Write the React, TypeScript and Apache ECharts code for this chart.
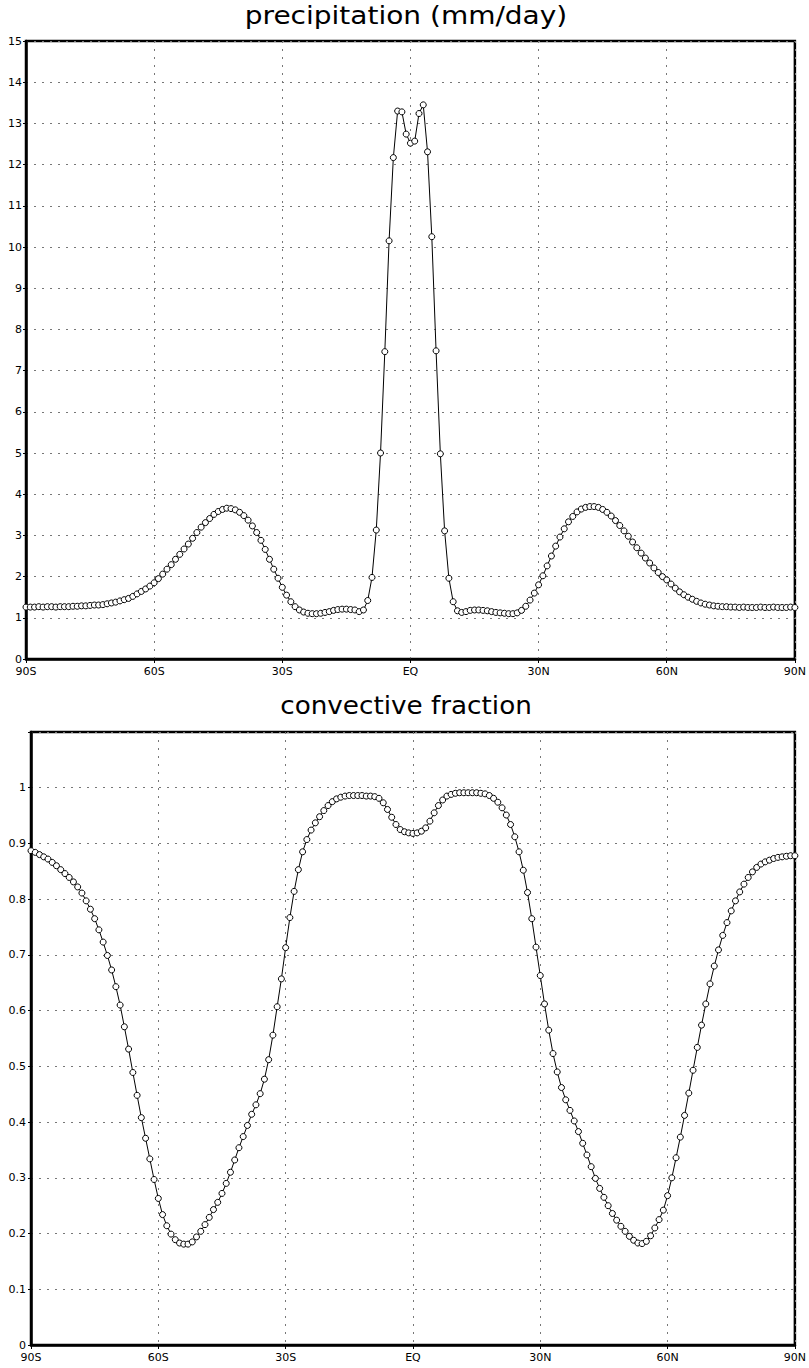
import React, { useEffect, useRef } from "react";
import * as echarts from "echarts";

const LATS = [
  -90, -89, -88, -87, -86, -85, -84, -83, -82, -81,
  -80, -79, -78, -77, -76, -75, -74, -73, -72, -71,
  -70, -69, -68, -67, -66, -65, -64, -63, -62, -61,
  -60, -59, -58, -57, -56, -55, -54, -53, -52, -51,
  -50, -49, -48, -47, -46, -45, -44, -43, -42, -41,
  -40, -39, -38, -37, -36, -35, -34, -33, -32, -31,
  -30, -29, -28, -27, -26, -25, -24, -23, -22, -21,
  -20, -19, -18, -17, -16, -15, -14, -13, -12, -11,
  -10, -9, -8, -7, -6, -5, -4, -3, -2, -1,
  0,
  1, 2, 3, 4, 5, 6, 7, 8, 9, 10,
  11, 12, 13, 14, 15, 16, 17, 18, 19, 20,
  21, 22, 23, 24, 25, 26, 27, 28, 29, 30,
  31, 32, 33, 34, 35, 36, 37, 38, 39, 40,
  41, 42, 43, 44, 45, 46, 47, 48, 49, 50,
  51, 52, 53, 54, 55, 56, 57, 58, 59, 60,
  61, 62, 63, 64, 65, 66, 67, 68, 69, 70,
  71, 72, 73, 74, 75, 76, 77, 78, 79, 80,
  81, 82, 83, 84, 85, 86, 87, 88, 89, 90,
];

const PRECIP = [
  1.26, 1.26, 1.26, 1.27, 1.26, 1.27, 1.27, 1.26, 1.27, 1.27,
  1.27, 1.28, 1.28, 1.29, 1.29, 1.30, 1.31, 1.31, 1.32, 1.34,
  1.36, 1.38, 1.41, 1.44, 1.47, 1.52, 1.58, 1.64, 1.70, 1.77,
  1.85, 1.95, 2.06, 2.18, 2.29, 2.42, 2.54, 2.67, 2.79, 2.93,
  3.07, 3.20, 3.31, 3.41, 3.51, 3.58, 3.63, 3.66, 3.65, 3.62,
  3.56, 3.48, 3.37, 3.23, 3.07, 2.88, 2.66, 2.42, 2.18, 1.96,
  1.74, 1.55, 1.39, 1.27, 1.19, 1.14, 1.11, 1.10, 1.10, 1.11,
  1.13, 1.15, 1.18, 1.20, 1.21, 1.21, 1.20, 1.19, 1.15, 1.19,
  1.42, 1.98, 3.13, 5.00, 7.46, 10.15, 12.17, 13.30, 13.28, 12.74,
  12.52,
  12.57, 13.24, 13.45, 12.31, 10.25, 7.48, 4.98, 3.11, 1.96, 1.39,
  1.17, 1.13, 1.15, 1.18, 1.19, 1.19, 1.18, 1.17, 1.15, 1.13,
  1.12, 1.11, 1.10, 1.10, 1.12, 1.18, 1.28, 1.43, 1.60, 1.80,
  2.02, 2.26, 2.50, 2.74, 2.96, 3.16, 3.33, 3.46, 3.57, 3.64,
  3.68, 3.70, 3.70, 3.68, 3.63, 3.56, 3.47, 3.36, 3.24, 3.11,
  2.98, 2.84, 2.70, 2.57, 2.45, 2.33, 2.21, 2.10, 2.00, 1.92,
  1.82, 1.72, 1.63, 1.56, 1.50, 1.45, 1.40, 1.36, 1.33, 1.31,
  1.29, 1.28, 1.27, 1.27, 1.26, 1.26, 1.25, 1.26, 1.25, 1.25,
  1.25, 1.26, 1.25, 1.25, 1.26, 1.25, 1.25, 1.25, 1.26, 1.25,
];

const CONV_FRAC = [
  0.887, 0.884, 0.880, 0.876, 0.872, 0.866, 0.860, 0.853, 0.846, 0.839,
  0.831, 0.822, 0.811, 0.797, 0.782, 0.765, 0.745, 0.723, 0.699, 0.673,
  0.643, 0.610, 0.571, 0.531, 0.489, 0.448, 0.408, 0.371, 0.334, 0.297,
  0.263, 0.234, 0.214, 0.199, 0.189, 0.183, 0.181, 0.181, 0.185, 0.194,
  0.204, 0.216, 0.229, 0.243, 0.256, 0.272, 0.290, 0.310, 0.332, 0.354,
  0.374, 0.394, 0.414, 0.431, 0.451, 0.477, 0.512, 0.556, 0.607, 0.657,
  0.713, 0.767, 0.814, 0.853, 0.885, 0.907, 0.924, 0.937, 0.948, 0.959,
  0.968, 0.975, 0.980, 0.983, 0.985, 0.986, 0.986, 0.986, 0.986, 0.985,
  0.985, 0.984, 0.981, 0.973, 0.961, 0.947, 0.934, 0.925, 0.921, 0.919,
  0.918,
  0.919, 0.922, 0.928, 0.940, 0.955, 0.968, 0.978, 0.985, 0.988, 0.990,
  0.991, 0.991, 0.991, 0.991, 0.991, 0.990, 0.989, 0.986, 0.981, 0.974,
  0.964, 0.951, 0.934, 0.912, 0.885, 0.852, 0.812, 0.765, 0.714, 0.663,
  0.612, 0.565, 0.523, 0.490, 0.462, 0.440, 0.421, 0.402, 0.383, 0.362,
  0.341, 0.320, 0.299, 0.281, 0.265, 0.250, 0.236, 0.224, 0.213, 0.204,
  0.195, 0.188, 0.183, 0.182, 0.186, 0.196, 0.210, 0.225, 0.242, 0.268,
  0.300, 0.336, 0.373, 0.412, 0.452, 0.493, 0.534, 0.574, 0.612, 0.648,
  0.680, 0.709, 0.735, 0.758, 0.779, 0.797, 0.813, 0.827, 0.839, 0.849,
  0.857, 0.863, 0.867, 0.870, 0.873, 0.875, 0.876, 0.877, 0.878, 0.878,
];

const X_TICKS = [-90, -60, -30, 0, 30, 60, 90];
const X_TICK_LABELS = ["90S", "60S", "30S", "EQ", "30N", "60N", "90N"];

const TITLES = ["precipitation (mm/day)", "convective fraction"];

const FONT = "DejaVu Sans";

function xLabel(v: number): string {
  const i = X_TICKS.indexOf(Math.round(v));
  return i >= 0 ? X_TICK_LABELS[i] : "";
}

const gridLine = {
  show: true,
  lineStyle: { color: "#777", width: 1, type: [2, 6] as number[] },
};

function makeXAxis(gridIndex: number) {
  return {
    type: "value",
    gridIndex,
    min: -90,
    max: 90,
    interval: 30,
    axisLine: { show: true, onZero: false, lineStyle: { color: "#000", width: 2.5 } },
    axisTick: { show: true, length: 4, lineStyle: { color: "#000", width: 1 } },
    axisLabel: {
      show: true,
      formatter: xLabel,
      color: "#000",
      fontFamily: FONT,
      fontSize: 11,
      margin: 7,
    },
    splitLine: gridLine,
  };
}

export default function App() {
  const ref = useRef<HTMLDivElement | null>(null);

  useEffect(() => {
    document.body.style.margin = "0";
    if (!ref.current) return;
    const chart = echarts.init(ref.current, undefined, { renderer: "svg" });

    const precipData = LATS.map((lat, i) => [lat, PRECIP[i]]);
    const convData = LATS.map((lat, i) => [lat, CONV_FRAC[i]]);

    const seriesStyle = {
      type: "line",
      symbol: "circle",
      symbolSize: 6,
      showAllSymbol: true,
      lineStyle: { color: "#000", width: 1 },
      itemStyle: { color: "#fff", borderColor: "#000", borderWidth: 1 },
      silent: true,
    };

    chart.setOption({
      animation: false,
      backgroundColor: "#fff",
      grid: [
        {
          left: 26,
          top: 41,
          width: 772,
          height: 618,
          show: true,
          borderColor: "#000",
          borderWidth: 2.5,
          backgroundColor: "transparent",
        },
        {
          left: 31,
          top: 732,
          width: 767,
          height: 613,
          show: true,
          borderColor: "#000",
          borderWidth: 2.5,
          backgroundColor: "transparent",
        },
      ],
      xAxis: [makeXAxis(0), makeXAxis(1)],
      yAxis: [
        {
          type: "value",
          gridIndex: 0,
          min: 0,
          max: 15,
          interval: 1,
          axisLine: { show: true, onZero: false, lineStyle: { color: "#000", width: 2.5 } },
          axisTick: { show: true, length: 3, lineStyle: { color: "#000", width: 1 } },
          axisLabel: { color: "#000", fontFamily: FONT, fontSize: 11, margin: 4 },
          splitLine: gridLine,
        },
        {
          type: "value",
          gridIndex: 1,
          min: 0,
          max: 1.1,
          interval: 0.1,
          axisLine: { show: true, onZero: false, lineStyle: { color: "#000", width: 2.5 } },
          axisTick: { show: true, length: 3, lineStyle: { color: "#000", width: 1 } },
          axisLabel: {
            color: "#000",
            fontFamily: FONT,
            fontSize: 11,
            margin: 5,
            formatter: (v: number) => (v > 1.05 ? "" : String(+v.toFixed(1))),
          },
          splitLine: gridLine,
        },
      ],
      graphic: [
        {
          type: "text",
          x: 406,
          y: 28,
          scaleX: 1.12,
          style: {
            text: TITLES[0],
            fill: "#000",
            font: `25px "${FONT}"`,
            textAlign: "center",
            textVerticalAlign: "bottom",
          },
        },
        {
          type: "text",
          x: 406,
          y: 718,
          scaleX: 1.05,
          style: {
            text: TITLES[1],
            fill: "#000",
            font: `25px "${FONT}"`,
            textAlign: "center",
            textVerticalAlign: "bottom",
          },
        },
      ],
      series: [
        { ...seriesStyle, xAxisIndex: 0, yAxisIndex: 0, data: precipData },
        { ...seriesStyle, xAxisIndex: 1, yAxisIndex: 1, data: convData },
      ],
    });

    return () => {
      chart.dispose();
    };
  }, []);

  return <div ref={ref} style={{ width: 809, height: 1368 }} />;
}
